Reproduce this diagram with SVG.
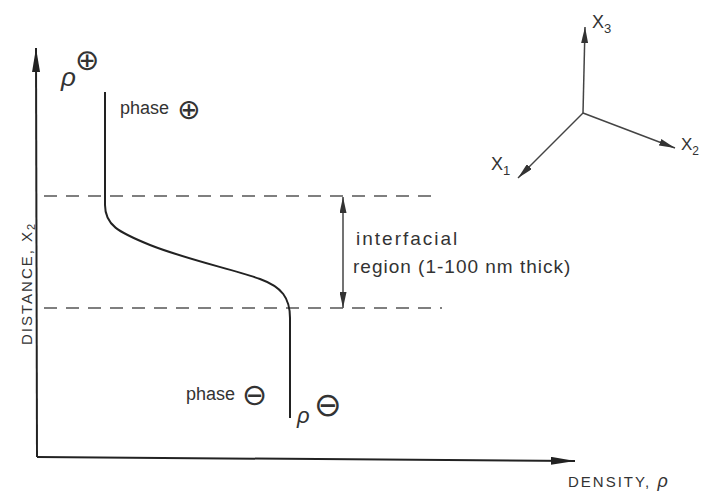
<svg xmlns="http://www.w3.org/2000/svg" width="703" height="495" viewBox="0 0 703 495">
<defs>
<style>
.ax{stroke:#222;stroke-width:2;fill:none}
.thin{stroke:#444;stroke-width:1.5;fill:none}
.dash{stroke:#555;stroke-width:1.6;stroke-dasharray:13 9;fill:none}
.t{font-family:"Liberation Sans","DejaVu Sans",sans-serif;fill:#333}
.s{font-family:"DejaVu Sans",sans-serif;fill:#333}
</style>
<marker id="ah" viewBox="0 0 24 8" refX="24" refY="4" markerWidth="24" markerHeight="8" markerUnits="userSpaceOnUse" orient="auto-start-reverse">
<path d="M0,0 L24,4 L0,8 Z" fill="#222"/>
</marker>
<marker id="ahs" viewBox="0 0 16 7" refX="16" refY="3.5" markerWidth="16" markerHeight="7" markerUnits="userSpaceOnUse" orient="auto-start-reverse">
<path d="M0,0 L16,3.5 L0,7 Z" fill="#333"/>
</marker>
</defs>
<rect width="703" height="495" fill="#fff"/>
<g id="connectors">
<path id="y-axis" class="ax" d="M37,457 L36,48" marker-end="url(#ah)"/>
<path id="x-axis" class="ax" d="M37,457 L575,461" marker-end="url(#ah)"/>
<path id="thickness" class="thin" d="M343,197 L343,308" marker-start="url(#ahs)" marker-end="url(#ahs)"/>
<path id="x3" class="thin" d="M583,113 L585,27" marker-end="url(#ahs)"/>
<path id="x2" class="thin" d="M583,113 L675,148" marker-end="url(#ahs)"/>
<path id="x1" class="thin" d="M583,113 L518,178" marker-end="url(#ahs)"/>
</g>
<g id="boundaries">
<path class="dash" d="M44,196 L432,196"/>
<path class="dash" d="M44,308 L442,308"/>
</g>
<g id="profile">
<path class="ax" stroke-width="1.8" d="M105,92 L105,205 C105,225 118,232 150,245 C185,259 235,270 260,279 C282,287 290,298 290,318 L290,418"/>
</g>
<g id="label-rho-plus">
<text class="t" x="61" y="86" font-size="26" font-style="italic">ρ</text>
<text class="s" x="75" y="70" font-size="29">⊕</text>
</g>
<g id="label-phase-plus">
<text class="t" x="120" y="114" font-size="18">phase</text>
<text class="s" x="177" y="119" font-size="28">⊕</text>
</g>
<g id="label-phase-minus">
<text class="t" x="186" y="400" font-size="18">phase</text>
<text class="s" x="242" y="405" font-size="30">⊖</text>
</g>
<g id="label-rho-minus">
<text class="t" x="297" y="423" font-size="22" font-style="italic">ρ</text>
<text class="s" x="314" y="416" font-size="33">⊖</text>
</g>
<g id="label-interfacial">
<text class="t" x="356" y="245" font-size="19" letter-spacing="2">interfacial</text>
<text class="t" x="353" y="273" font-size="19" letter-spacing="1">region (1-100 nm thick)</text>
</g>
<g id="label-distance">
<text class="t" transform="translate(32,345) rotate(-90)" font-size="15" letter-spacing="2">DISTANCE, X<tspan font-size="11" dy="3">2</tspan></text>
</g>
<g id="label-density">
<text class="t" x="568" y="487" font-size="15" letter-spacing="2">DENSITY, <tspan font-style="italic" font-size="18">ρ</tspan></text>
</g>
<g id="label-x3">
<text class="t" x="592" y="28" font-size="18">X<tspan font-size="13" dy="5">3</tspan></text>
</g>
<g id="label-x2">
<text class="t" x="681" y="150" font-size="17">X<tspan font-size="12" dy="5">2</tspan></text>
</g>
<g id="label-x1">
<text class="t" x="491" y="170" font-size="18">X<tspan font-size="13" dy="5">1</tspan></text>
</g>
</svg>
